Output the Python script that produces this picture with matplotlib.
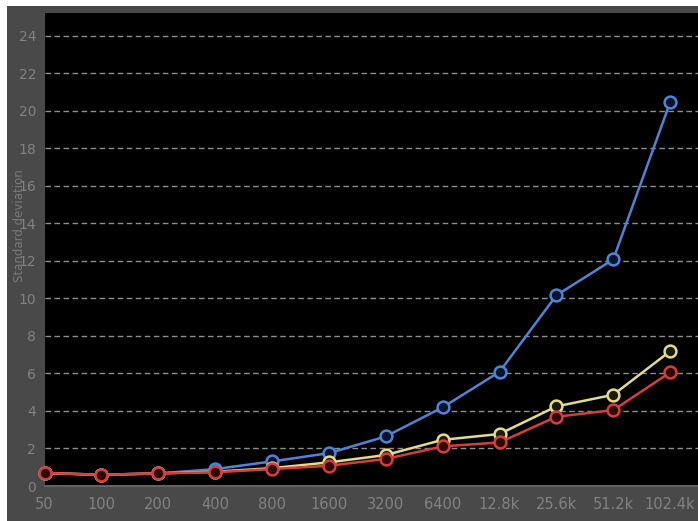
import matplotlib
matplotlib.use("Agg")
import matplotlib.pyplot as plt
from matplotlib.patches import Rectangle

categories = ["50", "100", "200", "400", "800", "1600", "3200", "6400", "12.8k", "25.6k", "51.2k", "102.4k"]
blue_values = [0.69, 0.6, 0.67, 0.9, 1.31, 1.75, 2.64, 4.19, 6.08, 10.16, 12.07, 20.44]
yellow_values = [0.69, 0.6, 0.67, 0.76, 0.95, 1.26, 1.65, 2.46, 2.77, 4.24, 4.86, 7.18]
red_values = [0.69, 0.6, 0.67, 0.73, 0.9, 1.08, 1.44, 2.11, 2.32, 3.69, 4.04, 6.05]
y_ticks = list(range(0, 26, 2))
y_label = "Standard deviation"

W, H = 698, 521
fig = plt.figure(figsize=(W / 100, H / 100), dpi=100, facecolor="white")
frame_col = "#494949"
fig.patches.append(Rectangle((7 / W, 0), 1 - 7 / W, 1 - 6 / H, transform=fig.transFigure,
                             facecolor=frame_col, edgecolor="none", zorder=-10))

left, right, top, bottom = 44.5, 698, 13, 486
ax = fig.add_axes([left / W, 1 - bottom / H, (right - left) / W, (bottom - top) / H])
ax.set_facecolor("black")

x = list(range(len(categories)))
series = [(blue_values, "#4d84d6", "#08142a"),
          (yellow_values, "#e2dc86", "#1c1a08"),
          (red_values, "#d83c3c", "#2a0808")]
for vals, col, fill in series:
    ax.plot(x, vals, color=col, linewidth=1.8, marker="o", markersize=8.5,
            markerfacecolor=fill, markeredgecolor=col, markeredgewidth=1.8, zorder=3,
            clip_on=False)

ax.set_xlim(0, 11.49)
ax.set_ylim(0, 25.2)
ax.set_yticks(y_ticks)
ax.set_xticks(x)
ax.set_xticklabels(categories)
ax.tick_params(axis="both", length=0, colors="#828282", labelsize=10)
ax.tick_params(axis="x", pad=8, labelsize=10.5)
ax.tick_params(axis="y", pad=6)
for yv in y_ticks[1:]:
    ax.axhline(yv, color="#8e8e8e", linewidth=1, linestyle=(0, (4, 2.5)), zorder=1)

for s in ["top", "right", "left"]:
    ax.spines[s].set_visible(False)
ax.spines["bottom"].set_color("#626262")
ax.spines["bottom"].set_linewidth(1.5)

fig.text(20 / W, 1 - 226 / H, y_label, rotation=90, ha="center", va="center",
         color="#7a7a7a", fontsize=8.5)

fig.savefig("out.png", dpi=100, facecolor=fig.get_facecolor())
